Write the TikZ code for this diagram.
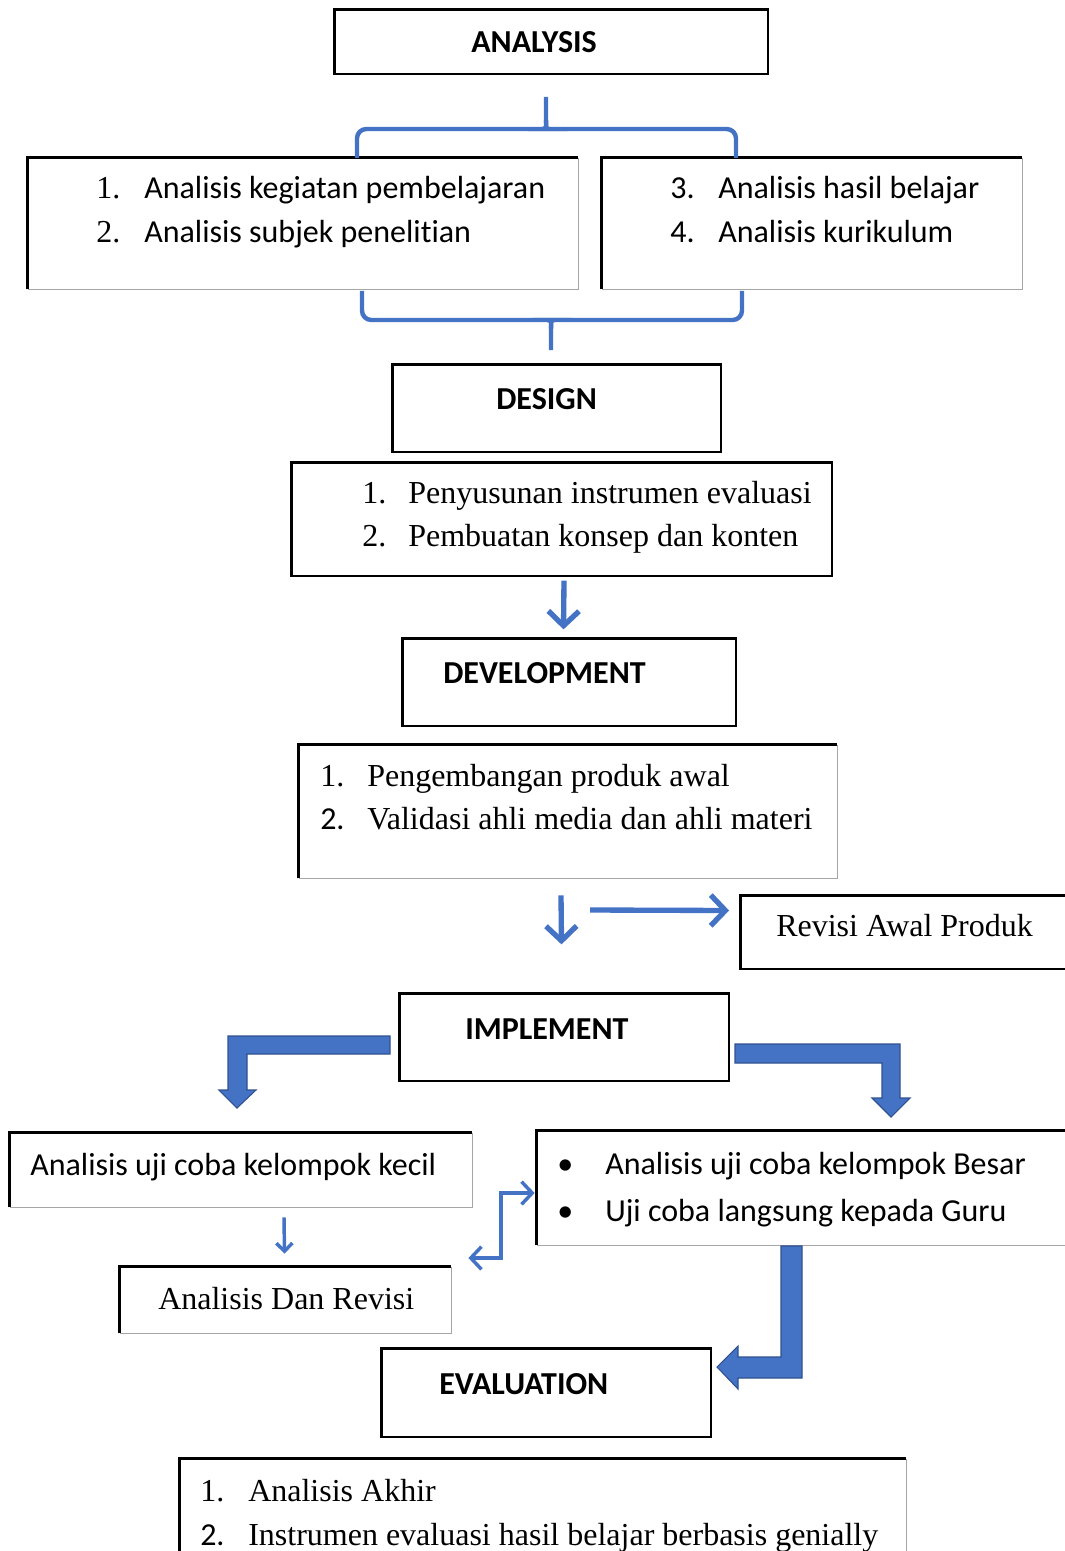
\documentclass[tikz,border=0pt]{standalone}
\usepackage{fontspec}
\setmainfont{Liberation Serif}
\newfontfamily\calibri{Carlito}[Ligatures=NoCommon]
\usetikzlibrary{fit,calc,arrows.meta}
\definecolor{flowblue}{RGB}{68,114,196}
\definecolor{flowdark}{RGB}{47,82,143}
\tikzset{
  box/.style={draw=black, line width=0.9pt, inner sep=0pt},
  lightbox/.style={draw=black!35, line width=0.6pt, inner sep=0pt},
  edge/.style={draw=black, line width=2.2pt},
  head/.style={anchor=base west, inner sep=0pt, yshift=-1.5pt, font=\calibri\bfseries\fontsize{24}{28}\selectfont},
  sans/.style={anchor=base west, inner sep=0pt, yshift=-1.5pt, font=\calibri\fontsize{24}{28}\selectfont},
  serif/.style={anchor=base west, inner sep=0pt, yshift=-1.5pt, font=\fontsize{24}{28}\selectfont},
  brace/.style={draw=flowblue, line width=3.3pt, rounded corners=7},
  flow/.style={draw=flowblue, line width=4pt, -{Straight Barb[length=11pt,width=23pt,line width=4pt]}},
  thinflow/.style={draw=flowblue, line width=2.6pt, {Straight Barb[length=8pt,width=17pt]}-{Straight Barb[length=8pt,width=17pt]}},
  block/.style={fill=flowblue, draw=flowdark, line width=0.8pt, line join=miter}
}
\begin{document}
\begin{tikzpicture}[x=0.75pt,y=-0.75pt]
\useasboundingbox (0,0) rectangle (1064,1551);
% boxes
\node[box, fit={(335,10) (768,74)}] (analysis) {};
\node[lightbox, fit={(28,158) (578,289)}] (alist) {};
\node[lightbox, fit={(602,158) (1022,289)}] (blist) {};
\node[box, fit={(393,365) (721,452)}] (design) {};
\node[box, fit={(292,463) (832,576)}] (dlist) {};
\node[box, fit={(403,639) (736,726)}] (devel) {};
\node[lightbox, fit={(299,745) (837,878)}] (vlist) {};
\node[box, line width=1.4pt, fit={(741,896) (1090,969)}] (revisi) {};
\node[box, fit={(400,994) (729,1081)}] (implement) {};
\node[lightbox, fit={(10,1133) (472,1207)}] (kecil) {};
\node[lightbox, fit={(537,1131) (1090,1245)}] (besar) {};
\node[lightbox, fit={(120,1267) (451,1333)}] (dan) {};
\node[box, fit={(382,1349) (711,1437)}] (evaluation) {};
\node[lightbox, fit={(180,1459) (906,1580)}] (elist) {};
\foreach \b in {analysis,alist,blist,design,dlist,devel,vlist,revisi,implement,kecil,besar,dan,evaluation,elist}
  \draw[edge] (\b.south west) |- (\b.north east);

% texts
\node[head] (t1) at (471,51) {ANALYSIS};
\node[serif] (a1n) at (96,197) {1.};
\node[sans] (a1) at (144,197) {Analisis kegiatan pembelajaran};
\node[serif] (a2n) at (96,241) {2.};
\node[sans] (a2) at (144,241) {Analisis subjek penelitian};
\node[sans] (b3n) at (670,197) {3.};
\node[sans] (b3) at (718,197) {Analisis hasil belajar};
\node[sans] (b4n) at (670,241) {4.};
\node[sans] (b4) at (718,241) {Analisis kurikulum};
\node[head] (t2) at (496,407) {DESIGN};
\node[serif] (d1n) at (362,501) {1.};
\node[serif] (d1) at (408,501) {Penyusunan instrumen evaluasi};
\node[serif] (d2n) at (362,544) {2.};
\node[serif] (d2) at (408,544) {Pembuatan konsep dan konten};
\node[head] (t3) at (443,681) {DEVELOPMENT};
\node[serif] (v1n) at (320,784) {1.};
\node[serif] (v1) at (367,784) {Pengembangan produk awal};
\node[sans] (v2n) at (320,827) {2.};
\node[serif] (v2) at (367,827) {Validasi ahli media dan ahli materi};
\node[serif] (r1) at (776,934) {Revisi Awal Produk};
\node[head] (t4) at (465,1037) {IMPLEMENT};
\node[sans] (k1) at (30,1173) {Analisis uji coba kelompok kecil};
\node[sans] (s1n) at (557,1172) {\textbullet};
\node[sans] (s1) at (605,1172) {Analisis uji coba kelompok Besar};
\node[sans] (s2n) at (557,1219) {\textbullet};
\node[sans] (s2) at (605,1219) {Uji coba langsung kepada Guru};
\node[serif] (n1) at (158,1307) {Analisis Dan Revisi};
\node[head] (t5) at (439,1392) {EVALUATION};
\node[serif] (e1n) at (200,1499) {1.};
\node[serif] (e1) at (248,1499) {Analisis Akhir};
\node[sans] (e2n) at (200,1543) {2.};
\node[serif] (e2) at (248,1543) {Instrumen evaluasi hasil belajar berbasis genially};

% braces
\draw[brace] (357,158) |- (540,129) to[out=0,in=-90] (546,120) -- (546,97);
\draw[brace] (546,120) to[out=-90,in=180] (552,129) -| (736,158);
\draw[brace] (362,291) |- (545,320) to[out=0,in=90] (551,329) -- (551,350);
\draw[brace] (551,329) to[out=90,in=180] (557,320) -| (742,291);

% arrows
\draw[flow] ($(dlist.south)+(2,4)$) -- ($(devel.north)+(-6,-9)$);
\draw[flow] ($(vlist.south)+(-7,17)$) -- ($(implement.north)+(-3,-49)$);
\draw[flow] (590,910) -- ($(revisi.west)+(-11,-22)$);
\draw[draw=flowblue, line width=2.6pt, -{Straight Barb[length=6pt,width=12pt]}] ($(kecil.south)+(43,10)$) -- ($(dan.north)+(-1,-13)$);
\draw[thinflow] ($(besar.west)+(-2,5)$) -| (501,1258) -- ($(dan.east)+(17,-42)$);

% block arrows
\draw[block] (390,1036) -- (228,1036) -- (228,1090) -- (219,1090) -- (237,1108) -- (256,1090) -- (247,1090) -- (247,1054) -- (390,1054) -- cycle;
\draw[block] (735,1044) -- (900,1044) -- (900,1098) -- (910,1098) -- (891,1117) -- (872,1098) -- (882,1098) -- (882,1063) -- (735,1063) -- cycle;
\draw[block] (781,1246) -- (802,1246) -- (802,1378) -- (738,1378) -- (738,1389) -- (717,1367) -- (738,1346) -- (738,1357) -- (781,1357) -- cycle;
\end{tikzpicture}
\end{document}
